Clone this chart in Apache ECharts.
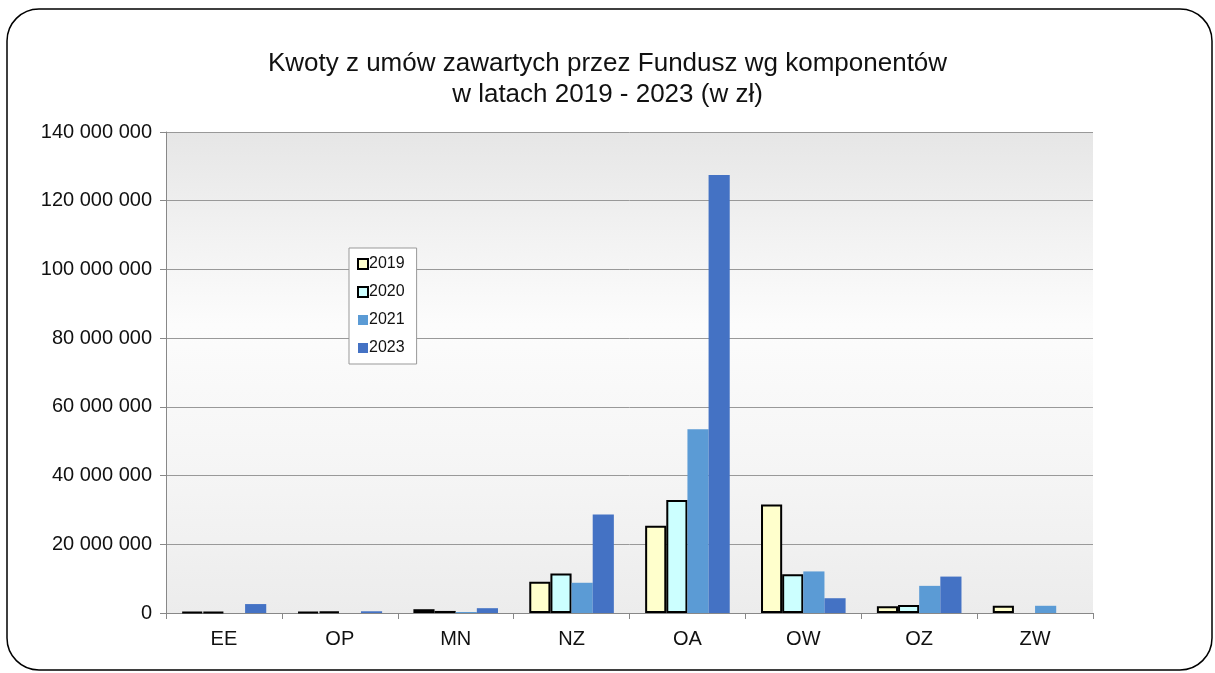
<!DOCTYPE html>
<html>
<head>
<meta charset="utf-8">
<script src="https://cdn.jsdelivr.net/npm/echarts@6/dist/echarts.min.js"></script>
<style>
  html, body { margin: 0; padding: 0; background: #fff; }
  #main { width: 1215px; height: 673px; }
</style>
</head>
<body>
<div id="main"></div>
<script>
// komponenty programu
var categories = ['EE', 'OP', 'MN', 'NZ', 'OA', 'OW', 'OZ', 'ZW'];
var years = ['2019', '2020', '2021', '2023'];
// kwoty w zł (null = brak słupka)
var v2019 = [300000, 300000, 1100000, 9100000, 25400000, 31600000, 2000000, 2100000];
var v2020 = [300000, 500000, 600000, 11500000, 32900000, 11300000, 2300000, null];
var v2021 = [null, null, 300000, 8800000, 53500000, 12100000, 7900000, 2100000];
var v2023 = [2600000, 500000, 1400000, 28700000, 127500000, 4300000, 10600000, null];

var chart = echarts.init(document.getElementById('main'));

function fmt(v) {
   return String(v).replace(/\B(?=(\d{3})+(?!\d))/g, ' ');
}

function bar(name, data, fill, border) {
   return {
      name: name,
      type: 'bar',
      data: data,
      barGap: '0%',
      barCategoryGap: '27%',
      itemStyle: {
         color: fill,
         borderColor: border ? '#000' : fill,
         borderWidth: border ? 2 : 0
      }
   };
}

chart.setOption({
   animation: false,
   textStyle: { fontFamily: 'Liberation Sans, Arial, sans-serif' },
   title: {
      text: 'Kwoty z umów zawartych przez Fundusz wg komponentów\nw latach 2019 - 2023 (w zł)',
      left: 'center',
      top: 43,
      textStyle: { fontSize: 26, fontWeight: 'normal', color: '#111', lineHeight: 31 }
   },
   legend: {
      orient: 'vertical',
      left: 349,
      top: 248,
      itemWidth: 10,
      itemHeight: 10,
      itemGap: 12,
      padding: [8, 12, 8, 8],
      backgroundColor: '#fff',
      borderColor: '#999',
      borderWidth: 1,
      icon: 'rect',
      textStyle: { fontSize: 16, color: '#111', padding: [0, 0, 0, -4] },
      data: years
   },
   graphic: [{
      type: 'rect',
      shape: { x: 7, y: 9, width: 1205, height: 661, r: 32 },
      style: { fill: 'none', stroke: '#000', lineWidth: 1.5 },
      z: -1
   }],
   grid: {
      left: 166, right: 122, top: 132, bottom: 60,
      show: true,
      borderWidth: 0,
      backgroundColor: new echarts.graphic.LinearGradient(0, 0, 0, 1, [
         { offset: 0, color: '#e6e6e6' },
         { offset: 0.4, color: '#fcfcfc' },
         { offset: 0.75, color: '#f4f4f4' },
         { offset: 1, color: '#ececec' }
      ])
   },
   xAxis: {
      type: 'category',
      data: categories,
      axisLine: { lineStyle: { color: '#888' } },
      axisTick: { show: true, length: 6, lineStyle: { color: '#888' } },
      axisLabel: { fontSize: 20, color: '#111', margin: 16 }
   },
   yAxis: {
      type: 'value',
      min: 0,
      max: 140000000,
      interval: 20000000,
      axisLine: { show: true, lineStyle: { color: '#888' } },
      axisTick: { show: true, length: 6, lineStyle: { color: '#888' } },
      splitLine: { lineStyle: { color: '#999' } },
      axisLabel: { fontSize: 20, color: '#111', margin: 14, formatter: fmt }
   },
   series: [
      bar('2019', v2019, '#ffffcc', true),
      bar('2020', v2020, '#ccffff', true),
      bar('2021', v2021, '#5b9bd5', false),
      bar('2023', v2023, '#4472c4', false)
   ]
});
</script>
</body>
</html>
